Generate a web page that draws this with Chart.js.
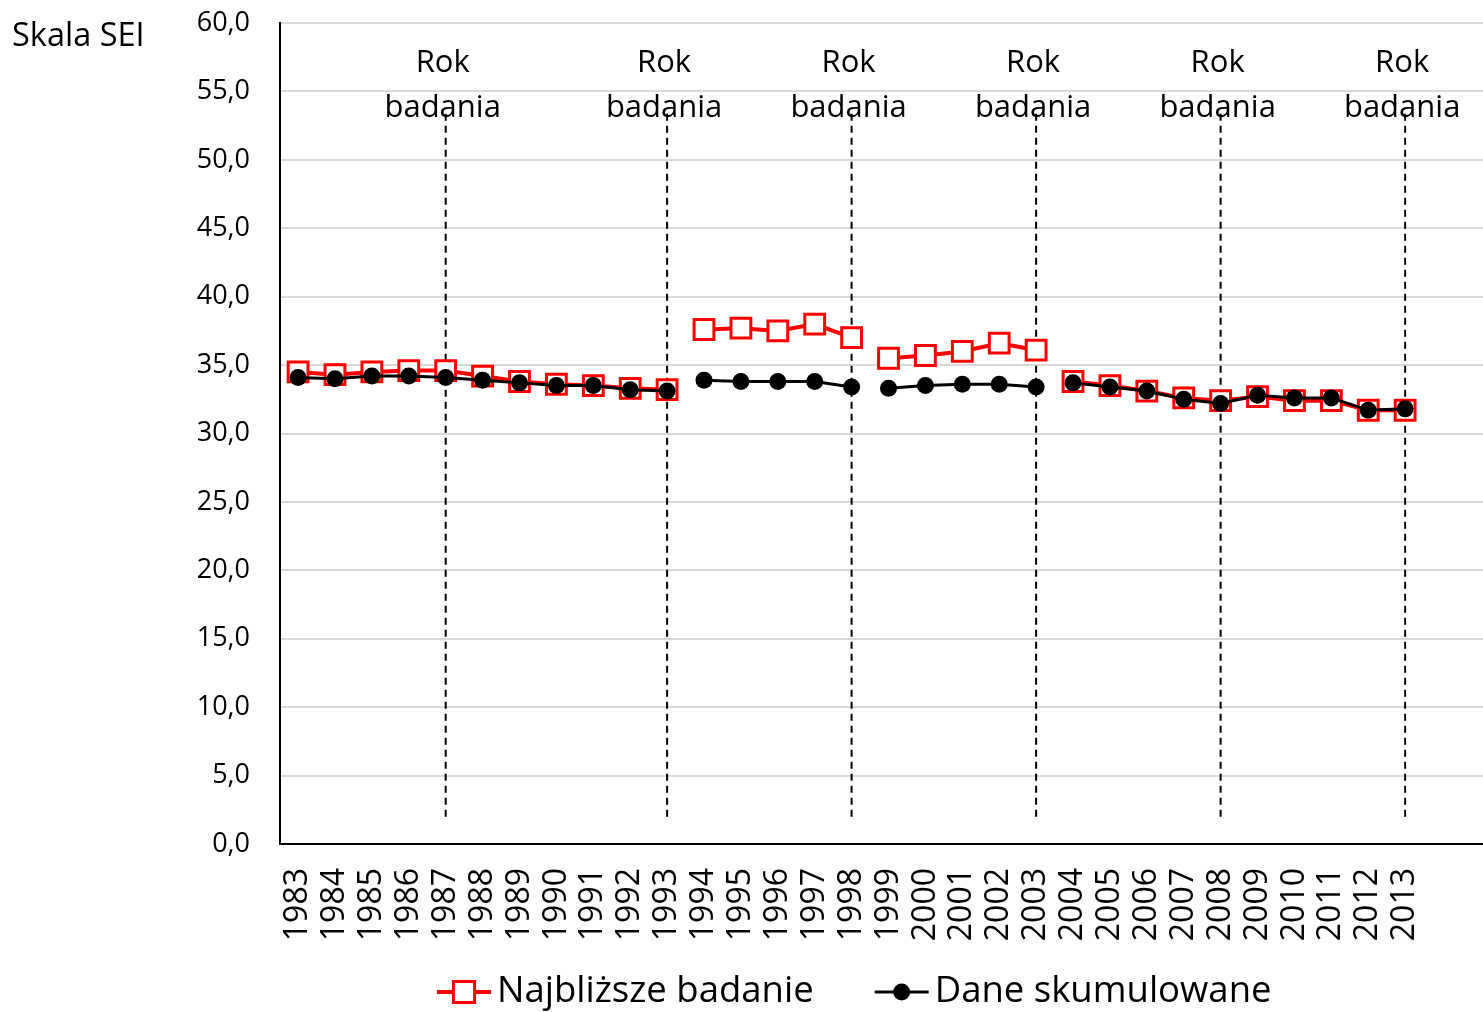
<!DOCTYPE html>
<html>
<head>
<meta charset="utf-8">
<script src="https://cdn.jsdelivr.net/npm/chart.js@4/dist/chart.umd.min.js"></script>
<style>
  html, body { margin: 0; padding: 0; background: #ffffff; }
  #wrap { width: 1483px; height: 1012px; }
</style>
</head>
<body>
<div id="wrap"><canvas id="c" width="1483" height="1012"></canvas></div>
<script>
// ---- data ----
const years = [1983,1984,1985,1986,1987,1988,1989,1990,1991,1992,1993,1994,1995,1996,1997,1998,1999,2000,2001,2002,2003,2004,2005,2006,2007,2008,2009,2010,2011,2012,2013];
const najblizszeBadanie = [34.5,34.3,34.5,34.6,34.6,34.2,33.8,33.6,33.5,33.3,33.2, 37.6,37.7,37.5,38.0,37.0, 35.5,35.7,36.0,36.6,36.1, 33.8,33.5,33.1,32.6,32.4,32.7,32.4,32.4,31.7,31.7];
const daneSkumulowane = [34.1,34.0,34.2,34.2,34.1,33.9,33.7,33.5,33.5,33.2,33.1, 33.9,33.8,33.8,33.8,33.4, 33.3,33.5,33.6,33.6,33.4, 33.7,33.4,33.1,32.5,32.2,32.8,32.6,32.6,31.7,31.8];
const breakAfter = [1993, 1998, 2003];
const surveyYears = [1987, 1993, 1998, 2003, 2008, 2013];
const surveyLineRange = [2.0, 53.8];
const surveyLabelLines = ['Rok', 'badania'];
const surveyLabelLevels = [57.05, 53.75];
const yTicks = [0,5,10,15,20,25,30,35,40,45,50,55,60];
const yTitle = 'Skala SEI';
const seriesNames = ['Najbliższe badanie', 'Dane skumulowane'];

const FONT = "'Open Sans', 'Noto Sans', sans-serif";
Chart.defaults.font.family = FONT;
Chart.defaults.color = '#000';

const RED = '#ff0000';
const BLACK = '#000000';

const pts = arr => years.map((y, i) => ({x: y, y: arr[i]}));
const segColor = col => ctx => breakAfter.includes(ctx.p0.parsed.x) ? 'rgba(0,0,0,0)' : col;

const datasets = [
  {
    label: seriesNames[1],
    data: pts(daneSkumulowane),
    borderColor: BLACK,
    backgroundColor: BLACK,
    borderWidth: 3,
    pointStyle: 'circle',
    pointRadius: 8.5,
    pointBackgroundColor: BLACK,
    pointBorderColor: BLACK,
    pointBorderWidth: 0,
    segment: { borderColor: segColor(BLACK) },
    order: 0
  },
  {
    label: seriesNames[0],
    data: pts(najblizszeBadanie),
    borderColor: RED,
    backgroundColor: '#ffffff',
    borderWidth: 4,
    pointStyle: 'rect',
    pointRadius: 14,
    pointBackgroundColor: '#ffffff',
    pointBorderColor: RED,
    pointBorderWidth: 3,
    segment: { borderColor: segColor(RED) },
    order: 1
  }
];
surveyYears.forEach(yr => {
  datasets.push({
    label: 'guide',
    data: [{x: yr, y: surveyLineRange[0]}, {x: yr, y: surveyLineRange[1]}],
    borderColor: BLACK,
    borderWidth: 2,
    borderDash: [7, 5],
    pointRadius: 0,
    order: 2
  });
});

const overlay = {
  id: 'overlay',
  afterDatasetsDraw(chart) {
    const ctx = chart.ctx;
    const xs = chart.scales.x, ys = chart.scales.y;
    ctx.save();
    ctx.fillStyle = '#000';
    ctx.textAlign = 'center';
    ctx.textBaseline = 'middle';
    ctx.font = `31px ${FONT}`;
    surveyYears.forEach(yr => {
      const px = xs.getPixelForValue(yr);
      surveyLabelLines.forEach((t, i) => {
        ctx.fillText(t, px - 3, ys.getPixelForValue(surveyLabelLevels[i]));
      });
    });
    ctx.textAlign = 'left';
    ctx.font = `32.5px ${FONT}`;
    ctx.fillText(yTitle, 12, 37);
    // legend
    ctx.font = `36.5px ${FONT}`;
    const ly = 992;
    let lx = 437;
    const items = [datasets[1], datasets[0]];
    items.forEach(ds => {
      ctx.save();
      ctx.strokeStyle = ds.borderColor;
      ctx.lineWidth = ds.borderWidth;
      ctx.beginPath();
      ctx.moveTo(lx, ly);
      ctx.lineTo(lx + 54, ly);
      ctx.stroke();
      ctx.restore();
      ctx.save();
      ctx.fillStyle = ds.pointBackgroundColor;
      ctx.strokeStyle = ds.pointBorderColor;
      ctx.lineWidth = ds.pointBorderWidth;
      Chart.helpers.drawPoint(ctx, {
        pointStyle: ds.pointStyle,
        radius: ds.pointStyle === 'rect' ? 15 : 8.5,
        borderWidth: ds.pointBorderWidth,
        rotation: 0
      }, lx + 27, ly);
      ctx.restore();
      ctx.fillStyle = '#000';
      ctx.textBaseline = 'middle';
      ctx.textAlign = 'left';
      const tx = lx + 60;
      ctx.fillText(ds.label, tx, ly);
      lx = tx + ctx.measureText(ds.label).width + 61;
    });
    ctx.restore();
  }
};

new Chart(document.getElementById('c'), {
  type: 'line',
  data: { datasets },
  options: {
    responsive: false,
    animation: false,
    devicePixelRatio: 1,
    layout: { autoPadding: false, padding: { top: 23, right: 0, bottom: 58, left: 0 } },
    plugins: {
      legend: { display: false },
      tooltip: { enabled: false }
    },
    scales: {
      x: {
        type: 'linear',
        min: 1982.51,
        max: 2015.11,
        afterBuildTicks: s => { s.ticks = years.map(v => ({value: v})); },
        afterFit: s => { s.height = 110; s.paddingLeft = 0; s.paddingRight = 0; },
        grid: { display: true, color: 'rgba(0,0,0,0)', drawTicks: false },
        border: { display: true, color: '#000', width: 2 },
        ticks: {
          autoSkip: false,
          minRotation: 90,
          maxRotation: 90,
          padding: 24,
          color: '#000',
          font: { size: 32 },
          callback: v => String(v)
        }
      },
      y: {
        min: 0,
        max: 60,
        afterBuildTicks: s => { s.ticks = yTicks.map(v => ({value: v})); },
        afterFit: s => { s.width = 280; s.paddingTop = 0; s.paddingBottom = 0; },
        grid: { color: '#d9d9d9', lineWidth: 2, drawTicks: false },
        border: { display: true, color: '#000', width: 2 },
        ticks: {
          padding: 30,
          color: '#000',
          font: { size: 27 },
          callback: v => v.toFixed(1).replace('.', ',')
        }
      }
    }
  },
  plugins: [overlay]
});
</script>
</body>
</html>
